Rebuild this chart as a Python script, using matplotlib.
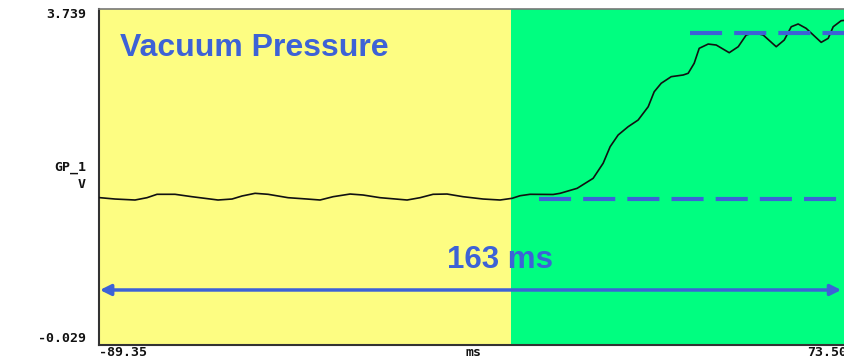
import matplotlib
matplotlib.use("Agg")
import matplotlib.pyplot as plt

# ---- data ----
t_ms = [-89.35, -89.13, -85.88, -81.54, -78.94, -76.77, -72.87, -69.18, -63.54,
        -60.50, -58.33, -55.51, -52.69, -48.35, -44.23, -41.41, -38.59, -34.91,
        -32.09, -28.40, -22.54, -19.73, -16.91, -13.87, -10.40, -6.06, -2.37,
        0.23, 1.96, 4.13, 9.12, 10.64, 14.33, 17.80, 19.97, 21.49, 23.22, 25.39,
        27.56, 29.74, 31.04, 32.56, 34.73, 37.33, 38.41, 39.71, 40.80, 42.75,
        44.49, 47.31, 49.26, 50.99, 52.73, 54.68, 57.50, 59.24, 60.76, 62.26,
        63.99, 67.25, 68.77, 69.86, 71.59, 73.50]
volts = [1.625, 1.623, 1.608, 1.597, 1.623, 1.661, 1.661, 1.634, 1.597,
         1.608, 1.642, 1.672, 1.661, 1.623, 1.608, 1.597, 1.634, 1.664,
         1.653, 1.623, 1.597, 1.623, 1.661, 1.664, 1.634, 1.608, 1.597,
         1.616, 1.645, 1.661, 1.659, 1.672, 1.728, 1.840, 2.009, 2.195, 2.326, 2.419,
         2.494, 2.643, 2.811, 2.906, 2.980, 2.999, 3.018, 3.130, 3.298, 3.346,
         3.335, 3.249, 3.316, 3.447, 3.473, 3.447, 3.316, 3.391, 3.540, 3.571,
         3.522, 3.365, 3.410, 3.540, 3.608, 3.616]

x_min, x_max = -89.35, 73.5
y_min, y_max = -0.029, 3.739
phase_split = 0.0            # yellow -> green boundary (ms)
low_level = 1.605            # lower dashed reference
low_start = 6.1
high_level = 3.473           # upper dashed reference
high_start = 38.8
span_label = "163 ms"
title_label = "Vacuum Pressure"
ytick_labels = ["3.739", "-0.029"]
xtick_labels = ["-89.35", "73.50"]
x_unit = "ms"
channel_label = "GP_1"
y_unit = "V"

# ---- styling ----
W, H = 844, 360
fig = plt.figure(figsize=(W / 100, H / 100), dpi=100)
left_px, right_px, top_px, bot_px = 99, 850, 9, 345
ax = fig.add_axes([left_px / W, 1 - bot_px / H,
                   (right_px - left_px) / W, (bot_px - top_px) / H])
ax.set_xlim(x_min, x_max)
ax.set_ylim(y_min, y_max)

ax.axvspan(x_min, phase_split, color="#fdfd82", zorder=0, lw=0)
ax.axvspan(phase_split, x_max, color="#00fe80", zorder=0, lw=0)

ax.plot(t_ms, volts, color="#111111", lw=1.2, zorder=3,
        solid_joinstyle="round")

blue = "#3d62d6"
ax.plot([low_start, x_max], [low_level, low_level], color=blue, lw=3.0,
        dashes=(7.7, 2.9), zorder=4, solid_capstyle="butt",
        dash_capstyle="butt")
ax.plot([high_start, x_max], [high_level, high_level], color=blue, lw=3.0,
        dashes=(7.7, 2.9), zorder=4, solid_capstyle="butt",
        dash_capstyle="butt")

ax.annotate("", xy=(x_min + 0.2, 0.588), xytext=(x_max - 1.9, 0.588),
            arrowprops=dict(arrowstyle="<|-|>", color=blue, lw=2.5,
                            mutation_scale=16, shrinkA=0, shrinkB=0), zorder=5)
ax.text(-2.4, 0.924, span_label, color=blue, fontsize=22.5, fontweight="bold",
        family="Liberation Sans", ha="center", va="center", zorder=5)
ax.text(-84.8, 3.30, title_label, color=blue, fontsize=23, fontweight="bold",
        family="Liberation Sans", ha="left", va="center", zorder=5)

ax.set_xticks([])
ax.set_yticks([])
for s in ["left", "bottom"]:
    ax.spines[s].set_color("#333333")
    ax.spines[s].set_linewidth(1.5)
ax.spines["top"].set_color("#777777")
ax.spines["top"].set_linewidth(1.2)
ax.spines["right"].set_visible(False)

mono = dict(family="DejaVu Sans Mono", fontweight="bold", fontsize=9.5,
            color="#111111")

def ftext(px, py, s, **kw):
    fig.text(px / W, 1 - py / H, s, **kw)

ftext(86, 15, ytick_labels[0], ha="right", va="center", **mono)
ftext(86, 339, ytick_labels[1], ha="right", va="center", **mono)
ftext(86, 168, channel_label, ha="right", va="center", **mono)
ftext(86, 184, y_unit, ha="right", va="center", **mono)
ftext(99, 353, xtick_labels[0], ha="left", va="center", **mono)
ftext(807, 353, xtick_labels[1], ha="left", va="center", **mono)
ftext(474, 353, x_unit, ha="center", va="center", **mono)

fig.savefig("out.png", dpi=100)
